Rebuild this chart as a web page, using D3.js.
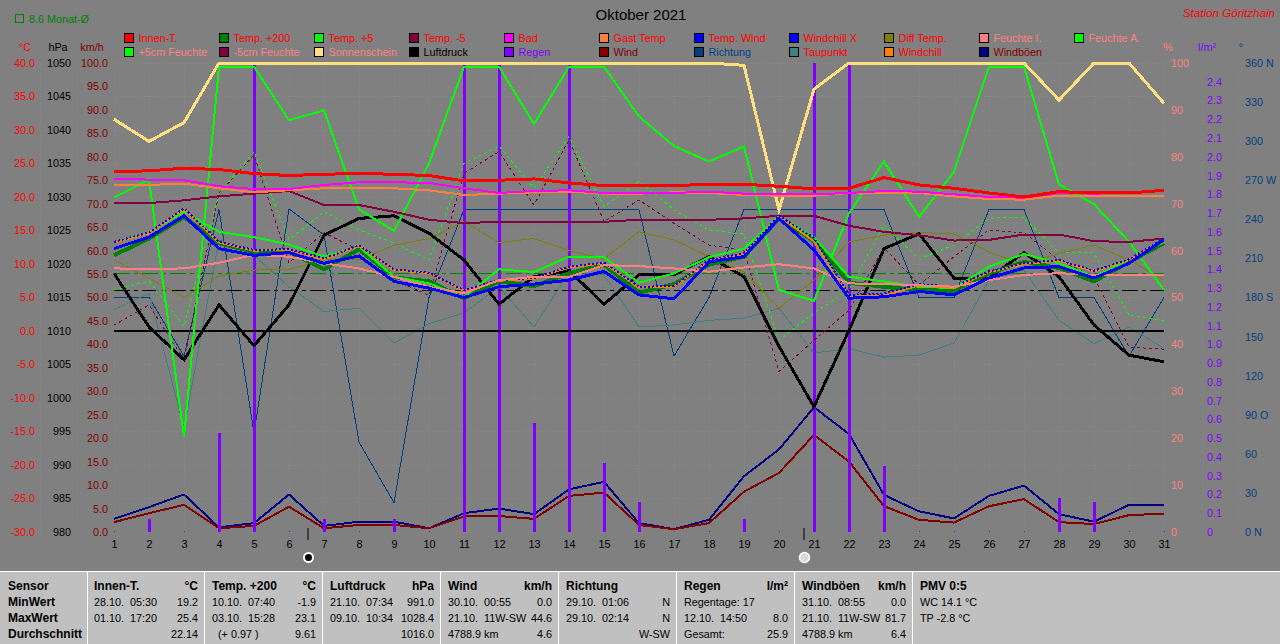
<!DOCTYPE html>
<html>
<head>
<meta charset="utf-8">
<script src="https://cdn.jsdelivr.net/npm/d3@7"></script>
<style>
  html, body { margin: 0; padding: 0; background: #808080; overflow: hidden; }
  svg { display: block; font-family: "Liberation Sans", Arial, sans-serif; font-size: 10.8px; }
  text { white-space: pre; }
  .axis .domain, .axis line { display: none; }
  .axis text { font-family: "Liberation Sans", Arial, sans-serif; font-size: 10.8px; }
</style>
</head>
<body>
<svg width="1280" height="644"></svg>
<script>
const days = d3.range(1, 32);

// temperatures in deg C
const innenT = [23.8,23.9,24.3,24.1,23.5,23.2,23.4,23.5,23.4,23.2,22.4,22.5,22.7,22.1,21.7,21.7,21.7,21.9,21.9,21.6,21.2,21.3,22.9,21.8,21.3,20.6,20.0,20.8,20.6,20.6,21.0];
const temp200 = [11.3,13.8,17.0,13.1,11.8,11.8,9.2,12.2,8.0,7.4,4.9,7.4,6.7,8.6,9.9,5.7,7.0,9.9,11.1,16.8,13.4,7.2,6.6,6.1,6.0,8.6,10.3,9.4,7.4,10.3,13.1];
const temp5 = [13.2,14.7,17.8,14.8,14.0,12.9,11.1,12.6,8.1,7.1,5.1,9.2,8.8,11.1,11.0,7.2,8.6,11.0,12.3,17.1,14.0,8.1,7.4,6.6,6.4,9.6,11.5,10.1,8.1,10.6,13.3];
const tempMinus5 = [19.1,19.1,19.5,20.1,20.5,20.9,18.8,18.8,17.8,16.6,16.1,16.3,16.3,16.3,16.3,16.6,16.6,16.6,16.8,17.2,17.2,15.7,14.8,14.3,13.5,13.6,14.4,14.4,13.4,13.3,13.8];
const bad = [22.7,22.6,22.5,21.6,21.2,21.2,21.8,22.2,22.2,22.1,21.3,20.6,20.9,21.0,20.6,20.6,20.6,20.8,20.5,20.5,20.4,20.6,20.9,20.8,20.4,20.0,19.9,20.6,20.5,20.6,21.0];
const gastTemp = [21.8,21.8,22.0,21.3,20.7,21.0,21.3,21.3,21.3,21.0,20.3,20.5,20.7,20.8,20.5,20.5,20.7,20.6,20.3,20.2,20.2,20.6,20.6,20.6,20.1,19.7,19.6,20.2,20.2,20.2,20.1];
const tempWind = [12.3,14.0,17.2,12.3,11.3,11.7,10.1,11.2,7.4,6.4,5.0,6.6,7.0,7.6,8.9,5.4,4.8,10.3,11.1,16.8,12.1,4.9,5.1,5.9,5.4,7.9,9.4,9.6,7.9,10.1,13.6];
const windchillX = [13.3,14.7,18.3,13.3,12.1,12.2,10.8,12.8,9.2,8.7,6.1,7.6,7.9,9.6,10.2,6.6,6.7,10.6,11.6,17.2,13.9,5.4,5.6,7.0,6.6,8.9,10.1,10.6,9.0,10.7,13.8];
const windchill = [13.2,14.6,18.2,13.2,12.0,12.1,10.7,12.7,9.1,8.6,6.0,7.5,7.8,9.5,10.1,6.5,6.6,10.5,11.5,17.1,13.4,5.1,5.3,6.8,6.4,8.8,10.0,10.5,8.9,10.6,13.7];
const diffTemp = [10.6,7.9,5.0,8.2,9.1,9.2,10.6,10.6,12.8,13.8,16.3,13.2,13.8,12.0,10.8,14.8,13.6,11.1,8.8,3.4,7.6,13.3,14.3,14.7,14.5,11.8,9.9,11.6,12.8,10.6,7.6];
const taupunkt = [3.2,5.6,-14.5,13.6,11.3,6.6,2.9,3.4,-1.8,1.1,2.7,6.6,0.6,8.7,8.4,0.6,0.9,1.6,1.9,3.4,-3.3,-2.6,-3.9,-3.6,-1.8,7.6,9.1,1.6,-1.9,0.6,-2.6];

// humidity and sunshine in percent
const feuchteI = [56.2,56.1,56.2,57.4,59.1,58.7,57.3,56.2,54.4,52.3,50.9,53.7,54.4,54.4,56.9,56.7,56.2,55.5,56.4,57.1,56.2,53.0,52.9,52.6,52.3,53.7,54.8,55.2,54.8,54.9,54.9];
const feuchteA = [71.3,75.1,20.3,99.2,99.2,87.8,89.9,68.8,64.2,78.6,99.2,99.2,87.0,99.2,99.2,88.6,82.3,79.0,82.2,51.6,49.3,68.0,79.0,67.2,76.8,99.2,99.2,74.1,69.9,61.9,51.6];
const feuchte5cm = [51.6,53.5,43.8,72.2,81.1,62.3,68.3,64.4,61.6,58.0,78.6,82.3,73.3,84.3,69.4,74.7,68.7,64.4,63.5,40.9,46.7,51.6,65.5,58.2,61.2,66.9,67.1,59.5,59.5,46.3,45.1];
const feuchteMinus5cm = [44.1,48.4,36.7,72.2,80.4,57.4,63.8,60.1,53.7,50.5,76.5,81.1,69.7,83.6,66.2,70.8,65.8,61.2,60.0,34.2,40.9,47.3,60.6,52.7,58.7,64.4,63.8,58.0,54.4,39.4,39.0];
const sonnenschein = [88.0,83.3,87.3,100,100,100,100,100,100,100,100,100,100,100,100,100,100,100,99.5,68.7,94.4,100,100,100,100,100,100,92.1,100,100,91.4];

// pressure hPa, wind km/h, direction degrees, rain l/m2
const luftdruck = [1018.6,1010.6,1005.7,1013.9,1007.8,1013.9,1024.3,1026.8,1027.2,1024.6,1020.6,1014.0,1018.1,1019.0,1014.0,1018.4,1018.4,1021.1,1018.1,1007.7,998.7,1010.1,1022.3,1024.5,1017.9,1017.9,1021.7,1018.1,1010.9,1006.4,1005.4];
const wind = [2.1,4.0,5.8,0.8,1.3,5.4,0.8,1.5,1.5,0.8,3.3,3.4,2.8,7.7,8.4,1.5,0.6,1.9,8.6,12.6,20.7,15.0,5.5,2.6,2.0,5.5,7.0,2.1,1.7,3.6,3.9];
const windboeen = [2.8,5.3,8.0,1.0,1.9,8.0,1.3,2.2,2.2,0.8,4.0,5.0,3.8,9.1,10.7,1.9,0.6,2.6,11.9,17.6,26.6,20.9,7.9,4.4,2.9,7.7,9.9,3.8,2.2,5.8,5.8];
const richtung = [180,180,135,247.5,76,248,228,69,22.5,180,247.5,247.5,247.5,247.5,247.5,247.5,135,180,247.5,247.5,247.5,247.5,247.5,180,180,247.5,247.5,180,180,135,180];
const regen = [0,0.07,0,0.53,3.9,0,0.07,0,0.07,0,3.0,8.0,0.58,3.6,0.37,0.16,0,0,0.07,0,2.7,2.6,0.35,0,0,0,0,0.18,0.16,0,0];

const freezing = 0;
const monatMittel = 8.6;
const druckMittel = 1016;

const legendRow1 = ["Innen-T.","Temp. +200","Temp. +5","Temp. -5","Bad","Gast Temp","Temp. Wind","Windchill X","Diff Temp.","Feuchte I.","Feuchte A."];
const legendRow2 = ["+5cm Feuchte","-5cm Feuchte","Sonnenschein","Luftdruck","Regen","Wind","Richtung","Taupunkt","Windchill","Windböen"];

const statHeaders = [
  ["Innen-T.", "°C"], ["Temp. +200", "°C"], ["Luftdruck", "hPa"], ["Wind", "km/h"],
  ["Richtung", ""], ["Regen", "l/m²"], ["Windböen", "km/h"]
];
const statLabels = ["MinWert", "MaxWert", "Durchschnitt"];
const statLeft = [
  ["28.10.  05:30", "01.10.  17:20", ""],
  ["10.10.  07:40", "03.10.  15:28", "  (+ 0.97 )"],
  ["21.10.  07:34", "09.10.  10:34", ""],
  ["30.10.  00:55", "21.10.  11W-SW", "4788.9 km"],
  ["29.10.  01:06", "29.10.  02:14", ""],
  ["Regentage: 17", "12.10.  14:50", "Gesamt:"],
  ["31.10.  08:55", "21.10.  11W-SW", "4788.9 km"]
];
const statRight = [
  ["19.2", "25.4", "22.14"],
  ["-1.9", "23.1", "9.61"],
  ["991.0", "1028.4", "1016.0"],
  ["0.0", "44.6", "4.6"],
  ["N", "N", "W-SW"],
  ["", "8.0", "25.9"],
  ["0.0", "81.7", "6.4"]
];
const pmvLines = ["PMV 0:5", "WC 14.1 °C", "TP -2.8 °C"];

const plotTop = 63, plotBottom = 532, plotLeft = 114, plotRight = 1164;
const RED = "#ff0000", SALMON = "#ff8080", MAROON = "#800000", PURPLE = "#8000ff", NAVY = "#004080";

const svg = d3.select("svg");

const x = d3.scaleLinear().domain([1, 31]).range([plotLeft, plotRight]);
const yTemp = d3.scaleLinear().domain([-30, 40]).range([plotBottom, plotTop]);
const yDruck = d3.scaleLinear().domain([980, 1050]).range([plotBottom, plotTop]);
const yWind = d3.scaleLinear().domain([0, 100]).range([plotBottom, plotTop]);
const yProzent = d3.scaleLinear().domain([0, 100]).range([plotBottom, plotTop]);
const yRegen = d3.scaleLinear().domain([0, 2.5]).range([plotBottom, plotTop]).clamp(true);
const yGrad = d3.scaleLinear().domain([0, 360]).range([plotBottom, plotTop]);

svg.append("rect").attr("width", 1280).attr("height", 644).attr("fill", "#808080");

// faint grid
const grid = svg.append("g").attr("stroke", "#888888").attr("stroke-dasharray", "1 2").attr("shape-rendering", "crispEdges");
grid.selectAll(".v").data(days).enter().append("line")
  .attr("x1", d => x(d)).attr("x2", d => x(d)).attr("y1", plotTop).attr("y2", plotBottom);
grid.selectAll(".h").data(d3.range(-30, 41, 5)).enter().append("line")
  .attr("x1", plotLeft).attr("x2", plotRight).attr("y1", d => yTemp(d)).attr("y2", d => yTemp(d));
grid.selectAll(".s").data([40, 77, 1202, 1238]).enter().append("line")
  .attr("x1", d => d).attr("x2", d => d).attr("y1", plotTop).attr("y2", plotBottom);

// axes
function addAxis(axis, xPos, color) {
  const g = svg.append("g").attr("class", "axis").attr("transform", `translate(${xPos},0)`).call(axis);
  g.selectAll("text").attr("fill", color);
  return g;
}
addAxis(d3.axisLeft(yTemp).tickValues(d3.range(-30, 41, 5)).tickFormat(d => d.toFixed(1)).tickSize(0).tickPadding(0), 35, RED);
addAxis(d3.axisLeft(yDruck).tickValues(d3.range(980, 1051, 5)).tickFormat(d => d).tickSize(0).tickPadding(0), 71, "#000000");
addAxis(d3.axisLeft(yWind).tickValues(d3.range(0, 101, 5)).tickFormat(d => d.toFixed(1)).tickSize(0).tickPadding(0), 108, MAROON);
addAxis(d3.axisRight(yProzent).tickValues(d3.range(0, 101, 10)).tickFormat(d => d).tickSize(0).tickPadding(0), 1171, SALMON);
addAxis(d3.axisRight(yRegen).tickValues(d3.range(0, 25).map(d => d / 10)).tickFormat(d => d === 0 ? "0" : d.toFixed(1)).tickSize(0).tickPadding(0), 1207, PURPLE);
const compass = { 0: " N", 90: " O", 180: " S", 270: " W", 360: " N" };
addAxis(d3.axisRight(yGrad).tickValues(d3.range(0, 361, 30)).tickFormat(d => d + (compass[d] || "")).tickSize(0).tickPadding(0), 1245, NAVY);
addAxis(d3.axisBottom(x).tickValues(days).tickFormat(d => d).tickSize(0).tickPadding(0), 0, "#000000")
  .attr("transform", "translate(0,540)");

const units = [["°C", 25, RED], ["hPa", 58, "#000000"], ["km/h", 92, MAROON], ["%", 1168, SALMON], ["l/m²", 1207, PURPLE], ["°", 1241, NAVY]];
svg.selectAll(".unit").data(units).enter().append("text")
  .attr("x", d => d[1]).attr("y", 51).attr("text-anchor", "middle").attr("fill", d => d[2]).text(d => d[0]);

// reference lines
const refLine = (yPos, color, width, dash) => svg.append("line")
  .attr("x1", plotLeft).attr("x2", plotRight).attr("y1", yPos).attr("y2", yPos)
  .attr("stroke", color).attr("stroke-width", width).attr("stroke-dasharray", dash || null)
  .attr("shape-rendering", "crispEdges");

const lineOf = (yScale) => d3.line().x((d, i) => x(days[i])).y(d => yScale(d));

function drawLine(values, yScale, color, width, dash) {
  svg.append("path")
    .attr("d", lineOf(yScale)(values))
    .attr("fill", "none")
    .attr("stroke", color)
    .attr("stroke-width", width)
    .attr("stroke-dasharray", dash || null)
    .attr("shape-rendering", "crispEdges");
}

drawLine(windboeen, yWind, "#000080", 2);
drawLine(wind, yWind, MAROON, 2);
drawLine(richtung, yGrad, NAVY, 1);
drawLine(taupunkt, yTemp, "#408080", 1);

// rain bars
svg.append("g").selectAll("rect").data(regen).enter().append("rect")
  .attr("x", (d, i) => x(days[i]) - (d > 0 ? 1 : 0))
  .attr("y", d => d > 0 ? yRegen(d) : plotBottom - 1)
  .attr("width", d => d > 0 ? 3 : 1)
  .attr("height", d => d > 0 ? plotBottom - yRegen(d) : 1)
  .attr("fill", PURPLE)
  .attr("shape-rendering", "crispEdges");

refLine(yTemp(freezing), "#000000", 2);
refLine(yDruck(druckMittel), "#000000", 1, "16 4 4 4");
refLine(yTemp(monatMittel), "#008000", 1, "16 4 4 4");

drawLine(feuchteMinus5cm, yProzent, "#800040", 1, "3 3");
drawLine(feuchte5cm, yProzent, "#00ff00", 1, "3 3");
drawLine(diffTemp, yTemp, "#808000", 1);
drawLine(luftdruck, yDruck, "#000000", 3);
drawLine(feuchteA, yProzent, "#00ff00", 2);
drawLine(sonnenschein, yProzent, "#ffe080", 3);
drawLine(tempMinus5, yTemp, "#800040", 2);
drawLine(gastTemp, yTemp, "#ff8040", 2);
drawLine(bad, yTemp, "#ff00ff", 2);
drawLine(innenT, yTemp, RED, 3);
drawLine(temp200, yTemp, "#008000", 4);
drawLine(temp5, yTemp, "#00ff00", 2);
drawLine(windchill, yTemp, "#ff8000", 2);
drawLine(windchillX, yTemp, "#0000ff", 2, "2 2");
drawLine(feuchteI, yProzent, SALMON, 2);
drawLine(tempWind, yTemp, "#0000ff", 3);

// moon phases
svg.append("line").attr("x1", 308).attr("x2", 308).attr("y1", 528).attr("y2", 540).attr("stroke", "#000");
svg.append("line").attr("x1", 804).attr("x2", 804).attr("y1", 528).attr("y2", 540).attr("stroke", "#000");
svg.append("circle").attr("cx", 308.5).attr("cy", 557.5).attr("r", 4.5).attr("fill", "#000").attr("stroke", "#fff").attr("stroke-width", 2);
svg.append("circle").attr("cx", 804.5).attr("cy", 557.5).attr("r", 5).attr("fill", "#d8d8d8").attr("stroke", "#fff").attr("stroke-width", 1.5);

// legend
const legendColors1 = [RED,"#008000","#00ff00","#800040","#ff00ff","#ff8040","#0000ff","#0000ff","#808000",SALMON,"#00ff00"];
const legendText1 = [RED,RED,RED,RED,RED,RED,RED,RED,RED,SALMON,SALMON];
const legendColors2 = ["#00ff00","#800040","#ffe080","#000000",PURPLE,MAROON,NAVY,"#408080","#ff8000","#000080"];
const legendText2 = [SALMON,SALMON,SALMON,"#000000",PURPLE,MAROON,NAVY,RED,RED,MAROON];

function addLegendRow(labels, swatches, colors, yPos) {
  const g = svg.append("g").selectAll("g").data(labels).enter().append("g")
    .attr("transform", (d, i) => `translate(${124.5 + i * 95},${yPos})`);
  g.append("rect").attr("width", 9).attr("height", 9)
    .attr("fill", (d, i) => swatches[i]).attr("stroke", "#000").attr("shape-rendering", "crispEdges");
  g.append("text").attr("x", 14).attr("y", 8.5).attr("fill", (d, i) => colors[i]).text(d => d);
}
addLegendRow(legendRow1, legendColors1, legendText1, 33.5);
addLegendRow(legendRow2, legendColors2, legendText2, 47.5);

// header texts
svg.append("rect").attr("x", 15.5).attr("y", 14.5).attr("width", 8).attr("height", 8)
  .attr("fill", "none").attr("stroke", "#008000");
svg.append("text").attr("x", 29).attr("y", 23).attr("fill", "#008000").text("8.6 Monat-Ø");
svg.append("text").attr("x", 641).attr("y", 20).attr("text-anchor", "middle").attr("fill", "#000")
  .style("font-size", "15px").text("Oktober 2021");
svg.append("text").attr("x", 1275).attr("y", 17).attr("text-anchor", "end").attr("fill", RED)
  .style("font-style", "italic").style("font-size", "11.6px").text("Station Göritzhain");

// bottom table
const panel = svg.append("g");
const dividers = [87, 204, 322, 440, 558, 676, 794, 912];
const rowY = [590, 606, 622, 638];
panel.append("rect").attr("x", 0).attr("y", 571).attr("width", 1280).attr("height", 73).attr("fill", "#c0c0c0");
panel.append("line").attr("x1", 0).attr("x2", 1280).attr("y1", 571.5).attr("y2", 571.5).attr("stroke", "#fff");
panel.selectAll(".div").data(dividers).enter().append("line")
  .attr("x1", d => d + 0.5).attr("x2", d => d + 0.5).attr("y1", 571).attr("y2", 644)
  .attr("stroke", "#fff");

const boldText = (xPos, yPos, t, anchor) => panel.append("text")
  .attr("x", xPos).attr("y", yPos).attr("font-weight", "bold").attr("font-size", 12)
  .attr("text-anchor", anchor || "start").text(t);

boldText(8, rowY[0], "Sensor");
statLabels.forEach((s, i) => boldText(8, rowY[i + 1], s));
statHeaders.forEach((h, c) => {
  const xl = dividers[c] + (c === 0 ? 7 : 8), xr = dividers[c + 1] - 6;
  boldText(xl, rowY[0], h[0]);
  boldText(xr, rowY[0], h[1], "end");
  statLeft[c].forEach((t, r) => {
    panel.append("text").attr("x", xl).attr("y", rowY[r + 1]).text(t);
  });
  statRight[c].forEach((t, r) => {
    panel.append("text").attr("x", xr).attr("y", rowY[r + 1]).attr("text-anchor", "end").text(t);
  });
});
pmvLines.forEach((t, r) => {
  if (r === 0) boldText(920, rowY[r], t);
  else panel.append("text").attr("x", 920).attr("y", rowY[r]).text(t);
});
</script>
</body>
</html>
